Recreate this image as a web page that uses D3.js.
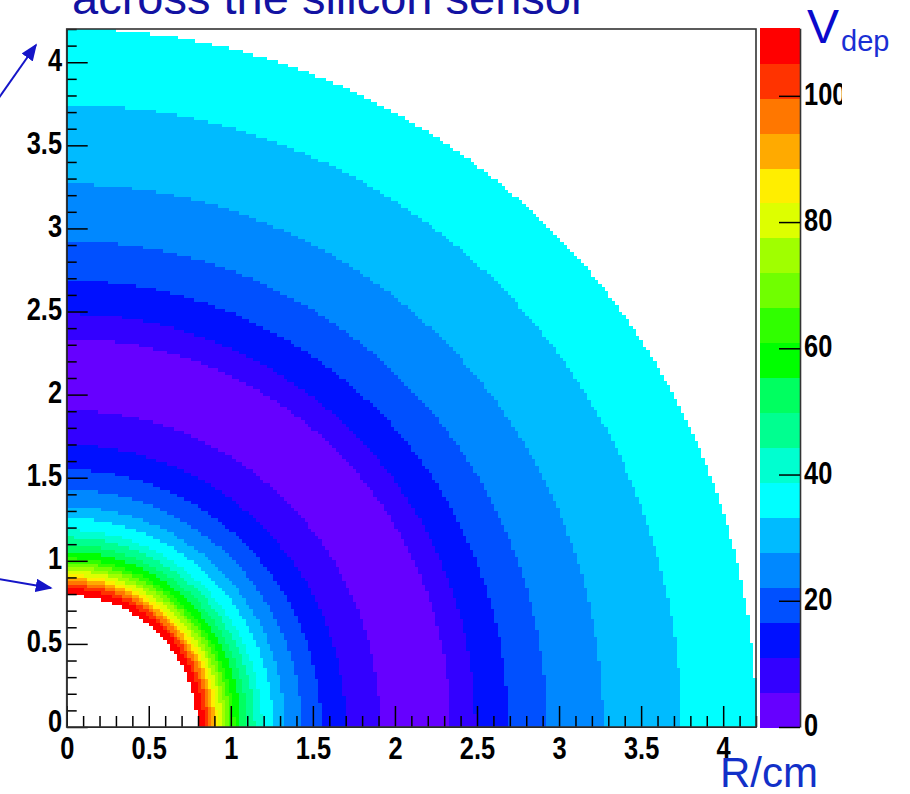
<!DOCTYPE html>
<html>
<head>
  <meta charset="utf-8">
  <title>Vdep across the silicon sensor</title>
  <style>
    body { margin: 0; background: #fff; }
    svg { display: block; }
    .lbl { font-family: "Liberation Sans", Arial, sans-serif; font-weight: bold; font-size: 31px; fill: #000; }
    .blue { font-family: "Liberation Sans", Arial, sans-serif; }
  </style>
</head>
<body>
  <svg></svg>
  <script src="https://cdn.jsdelivr.net/npm/d3@7/dist/d3.min.js"></script>
  <script>
    var width = 910, height = 794;

    // 2D histogram: 200 x 200 bins over 0..4.2 cm in x and y
    var binCount = 200;
    var axisMax = 4.2;

    // radial rings: edges in cm and Vdep (V) inside each ring
    var ringEdges = [0.795, 0.835, 0.86, 0.88, 0.90, 0.92, 0.945, 0.97, 0.995, 1.02, 1.06, 1.10, 1.145, 1.19,
      1.26, 1.33, 1.43, 1.55, 1.70, 1.91, 2.34, 2.49, 2.69, 2.925, 3.27, 3.745, 4.2];
    var ringVdep = [108, 102.4, 96.9, 91.3, 85.8, 80.3, 74.7, 69.2, 63.7, 58.1, 52.6, 47.0, 41.5,
      36.0, 30.4, 24.9, 19.4, 13.8, 8.3, 2.8, 8.3, 13.8, 19.4, 24.9, 30.4, 36.0];

    // colour palette (20 contour levels) and z range
    var palette = ["#6600ff", "#3300ff", "#0010ff", "#0050ff", "#0088ff", "#00bbff", "#00ffff", "#00ffd0",
      "#00ff90", "#00ff60", "#00ff00", "#30ff00", "#70ff00", "#a0ff00", "#ddff00", "#ffee00",
      "#ffaa00", "#ff7700", "#ff3300", "#ff0000"];
    var zMax = 110.7;

    var xTickLabels = [0, 0.5, 1, 1.5, 2, 2.5, 3, 3.5, 4];
    var yTickLabels = [0, 0.5, 1, 1.5, 2, 2.5, 3, 3.5, 4];
    var zTickLabels = [0, 20, 40, 60, 80, 100];

    var svg = d3.select("svg").attr("width", width).attr("height", height);

    var x = d3.scaleLinear().domain([0, axisMax]).range([66.7, 756]);
    var y = d3.scaleLinear().domain([0, axisMax]).range([727, 29]);
    var z = d3.scaleLinear().domain([0, zMax]).range([727, 28.3]);
    var color = d3.scaleQuantize().domain([0, zMax]).range(palette);

    // build cells
    var bw = axisMax / binCount;
    var cells = [];
    for (var i = 0; i < binCount; i++) {
      for (var j = 0; j < binCount; j++) {
        var r = Math.hypot((i + 0.5) * bw, (j + 0.5) * bw);
        var k = d3.bisectRight(ringEdges, r) - 1;
        if (k >= 0 && k < ringVdep.length) cells.push({ i: i, j: j, v: ringVdep[k] });
      }
    }

    svg.append("g").attr("shape-rendering", "crispEdges")
      .selectAll("rect").data(cells).enter().append("rect")
      .attr("x", d => x(d.i * bw))
      .attr("y", d => y((d.j + 1) * bw))
      .attr("width", d => x((d.i + 1) * bw) - x(d.i * bw) + 0.6)
      .attr("height", d => y(d.j * bw) - y((d.j + 1) * bw) + 0.6)
      .attr("fill", d => color(d.v));

    // minor ticks every 0.1
    var minor = d3.range(0, 43).map(d => d / 10).filter(d => Math.round(d * 10) % 5 !== 0);

    var gxm = svg.append("g").attr("transform", "translate(0," + y(0) + ")")
      .call(d3.axisBottom(x).tickValues(minor).tickSize(-11).tickSizeOuter(0).tickFormat(""));
    gxm.select(".domain").remove();
    var gym = svg.append("g").attr("transform", "translate(" + x(0) + ",0)")
      .call(d3.axisLeft(y).tickValues(minor).tickSize(-10).tickSizeOuter(0).tickFormat(""));
    gym.select(".domain").remove();

    var gx = svg.append("g").attr("transform", "translate(0," + y(0) + ")")
      .call(d3.axisBottom(x).tickValues(xTickLabels).tickSize(-21).tickSizeOuter(0).tickFormat(d3.format("")));
    gx.selectAll("text").attr("class", "lbl").attr("y", 32).attr("dy", null)
      .attr("transform", "scale(0.82,1)");

    var gy = svg.append("g").attr("transform", "translate(" + x(0) + ",0)")
      .call(d3.axisLeft(y).tickValues(yTickLabels).tickSize(-21).tickSizeOuter(0).tickFormat(d3.format("")));
    gy.selectAll("text").attr("class", "lbl").attr("x", -5.7).attr("dy", null)
      .attr("y", d => d === 0 ? 4.7 : 8)
      .attr("transform", "scale(0.82,1)");

    svg.selectAll(".tick line").attr("stroke", "#000").attr("stroke-width", 1.5);

    // frame
    svg.append("rect")
      .attr("x", x(0)).attr("y", y(axisMax))
      .attr("width", x(axisMax) - x(0)).attr("height", y(0) - y(axisMax))
      .attr("fill", "none").attr("stroke", "#333").attr("stroke-width", 1.6);

    // palette
    svg.append("g").attr("shape-rendering", "crispEdges")
      .selectAll("rect").data(palette).enter().append("rect")
      .attr("x", 760).attr("width", 40)
      .attr("y", (d, i) => z((i + 1) * zMax / palette.length))
      .attr("height", (d, i) => z(i * zMax / palette.length) - z((i + 1) * zMax / palette.length) + 0.5)
      .attr("fill", d => d);

    // palette axis, labels cut at x = 842 like the original picture
    var gz = svg.append("g").attr("transform", "translate(800,0)");
    gz.append("clipPath").attr("id", "zclip")
      .append("rect").attr("x", -100).attr("y", -10).attr("width", 142).attr("height", 820);
    gz.attr("clip-path", "url(#zclip)")
      .call(d3.axisRight(z).tickValues(zTickLabels).tickSize(-21).tickSizeOuter(0).tickFormat(d3.format("")));
    gz.selectAll("text").attr("class", "lbl").attr("x", 4.9).attr("y", 8.5).attr("dy", null)
      .attr("transform", "scale(0.82,1)");
    gz.selectAll(".tick line").attr("stroke", "#000").attr("stroke-width", 1.5);
    gz.select(".domain").attr("stroke", "#333").attr("stroke-width", 1.6);

    // title and labels
    svg.append("text").attr("class", "blue")
      .attr("x", 72).attr("y", 13.5)
      .attr("font-size", 47).attr("fill", "#1212a2")
      .text("across the silicon sensor");

    svg.append("text").attr("class", "blue")
      .attr("x", 807).attr("y", 43)
      .attr("font-size", 48).attr("fill", "#0a0acc")
      .text("V");
    svg.append("text").attr("class", "blue")
      .attr("x", 841).attr("y", 51)
      .attr("font-size", 29).attr("fill", "#1a2fd4")
      .text("dep");

    svg.append("text").attr("class", "blue")
      .attr("x", 720).attr("y", 787)
      .attr("font-size", 42).attr("fill", "#1230c8")
      .text("R/cm");

    // arrows
    svg.append("defs").append("marker")
      .attr("id", "head").attr("viewBox", "0 0 10 8")
      .attr("refX", 9).attr("refY", 4)
      .attr("markerWidth", 17).attr("markerHeight", 13.6)
      .attr("markerUnits", "userSpaceOnUse")
      .attr("orient", "auto")
      .append("path").attr("d", "M0,0 L10,4 L0,8 Z").attr("fill", "#1515c8");

    svg.append("line")
      .attr("x1", -2).attr("y1", 99).attr("x2", 36).attr("y2", 45)
      .attr("stroke", "#1515c8").attr("stroke-width", 2).attr("marker-end", "url(#head)");
    svg.append("line")
      .attr("x1", -2).attr("y1", 579).attr("x2", 51).attr("y2", 588)
      .attr("stroke", "#1515c8").attr("stroke-width", 2).attr("marker-end", "url(#head)");
  </script>
</body>
</html>
